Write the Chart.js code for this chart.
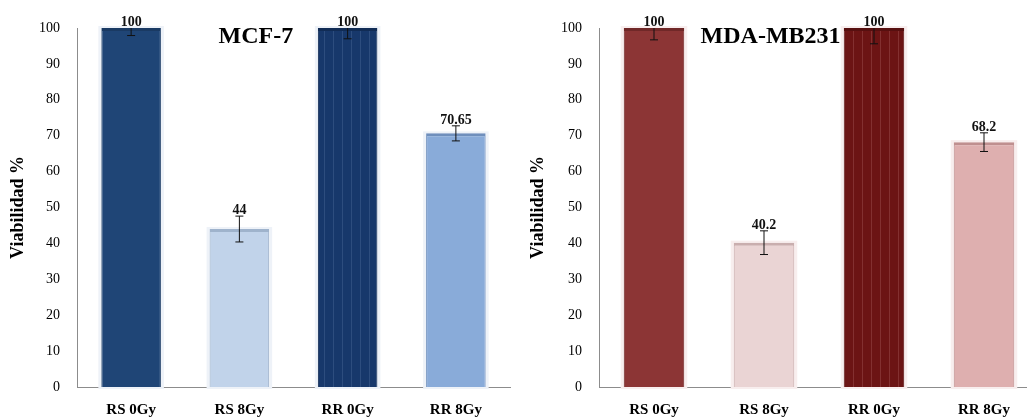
<!DOCTYPE html>
<html>
<head>
<meta charset="utf-8">
<script src="https://cdn.jsdelivr.net/npm/chart.js@4/dist/chart.umd.min.js"></script>
<style>
  body { margin: 0; background: #fff; }
  #wrap { position: relative; width: 1027px; height: 417px; overflow: hidden; }
  #left { position: absolute; left: 0; top: 0; }
  #right { position: absolute; left: 520px; top: 0; }
</style>
</head>
<body>
<div id="wrap">
  <canvas id="left" width="512" height="417"></canvas>
  <canvas id="right" width="520" height="417"></canvas>
</div>
<script>
const categories = ['RS 0Gy', 'RS 8Gy', 'RR 0Gy', 'RR 8Gy'];
const mcfValues = [100, 44, 100, 70.65];
const mcfErrors = [2.1, 3.6, 3.0, 2.1];
const mdaValues = [100, 40.2, 100, 68.2];
const mdaErrors = [3.3, 3.3, 4.4, 2.6];
const yMin = 0, yMax = 100, yStep = 10;

const SERIF = '"Liberation Serif", "DejaVu Serif", serif';

function stripes(base, line) {
    const c = document.createElement('canvas');
    c.width = 9; c.height = 4;
    const g = c.getContext('2d');
    g.fillStyle = base;
    g.fillRect(0, 0, 9, 4);
    g.fillStyle = line;
    g.fillRect(0, 0, 1, 4);
    return g.createPattern(c, 'repeat');
}

// light glow around each bar
const haloPlugin = {
    id: 'halo',
    beforeDatasetsDraw(chart, args, opts) {
        const ctx = chart.ctx;
        ctx.save();
        ctx.fillStyle = opts.color;
        chart.getDatasetMeta(0).data.forEach(bar => {
            const p = bar.getProps(['x', 'y', 'base', 'width'], true);
            ctx.fillRect(p.x - p.width / 2 - 3, p.y - 2, p.width + 6, p.base - p.y + 4);
        });
        ctx.restore();
    }
};

// error bars + value labels
const errorPlugin = {
    id: 'errs',
    afterDatasetsDraw(chart, args, opts) {
        const ctx = chart.ctx;
        const y = chart.scales.y;
        const area = chart.chartArea;
        const values = chart.data.datasets[0].data;
        ctx.save();
        chart.getDatasetMeta(0).data.forEach((bar, i) => {
            const v = values[i], e = opts.errors[i];
            const top = y.getPixelForValue(v + e);
            const bot = y.getPixelForValue(v - e);
            const x = bar.x;
            ctx.save();
            ctx.beginPath();
            ctx.rect(area.left, area.top, area.right - area.left, area.bottom - area.top);
            ctx.clip();
            ctx.strokeStyle = '#111';
            ctx.lineWidth = 1;
            ctx.beginPath();
            ctx.moveTo(x, top); ctx.lineTo(x, bot);
            ctx.moveTo(x - 4, top); ctx.lineTo(x + 4, top);
            ctx.moveTo(x - 4, bot); ctx.lineTo(x + 4, bot);
            ctx.stroke();
            ctx.restore();

            ctx.fillStyle = '#111';
            ctx.font = 'bold 14px ' + SERIF;
            ctx.textAlign = 'center';
            ctx.textBaseline = 'alphabetic';
            ctx.fillText(String(v), x, Math.max(top, area.top) - 2);
        });
        ctx.restore();
    }
};

// title drawn inside the plot area
const innerTitle = {
    id: 'innerTitle',
    afterDatasetsDraw(chart, args, opts) {
        const a = chart.chartArea;
        const ctx = chart.ctx;
        ctx.save();
        ctx.fillStyle = '#000';
        ctx.font = 'bold 24px ' + SERIF;
        ctx.textAlign = 'center';
        ctx.textBaseline = 'middle';
        ctx.fillText(opts.text, a.left + (a.right - a.left) * opts.xFrac, opts.y);
        ctx.restore();
    }
};

function makeChart(id, values, errors, colors, borders, halo, title, xFrac, yWidth, padRight) {
    new Chart(document.getElementById(id), {
        type: 'bar',
        data: {
            labels: categories,
            datasets: [{
                data: values,
                backgroundColor: colors,
                borderColor: borders,
                borderWidth: { top: 3, left: 1, right: 1, bottom: 0 },
                borderSkipped: false,
                categoryPercentage: 1,
                barPercentage: 0.55
            }]
        },
        options: {
            responsive: false,
            animation: false,
            layout: { padding: { top: 28, right: padRight, left: 0, bottom: 0 } },
            plugins: {
                legend: { display: false },
                tooltip: { enabled: false },
                halo: { color: halo },
                errs: { errors: errors },
                innerTitle: { text: title, xFrac: xFrac, y: 37 }
            },
            scales: {
                x: {
                    grid: { display: false, drawTicks: false },
                    border: { color: '#8c8c8c', width: 1 },
                    ticks: { color: '#000', padding: 14, font: { family: SERIF, size: 15, weight: 'bold' } },
                    afterFit(s) { s.height = 30; }
                },
                y: {
                    min: yMin, max: yMax,
                    grid: { display: false, drawTicks: false },
                    border: { color: '#8c8c8c', width: 1 },
                    ticks: { stepSize: yStep, color: '#000', padding: 17, font: { family: SERIF, size: 14 } },
                    title: {
                        display: true, text: 'Viabilidad %', color: '#000',
                        padding: { top: 8, bottom: 0 },
                        font: { family: SERIF, size: 18, weight: 'bold' }
                    },
                    afterFit(s) { s.width = yWidth; }
                }
            }
        },
        plugins: [haloPlugin, errorPlugin, innerTitle]
    });
}

makeChart('left', mcfValues, mcfErrors,
    ['#1f4576', '#c1d3ea', stripes('#17386b', '#2d4d7e'), '#89abd9'],
    ['#1a3a63', '#9fb3cc', '#112c55', '#6f8fbc'],
    '#eef2f8', 'MCF-7', 0.413, 77, 2);

makeChart('right', mdaValues, mdaErrors,
    ['#8c3535', '#ead4d4', stripes('#6c1414', '#833030'), '#deafaf'],
    ['#702828', '#c9aeae', '#571010', '#bf8f8f'],
    '#f8eeee', 'MDA-MB231', 0.39, 79, 1);
</script>
</body>
</html>
